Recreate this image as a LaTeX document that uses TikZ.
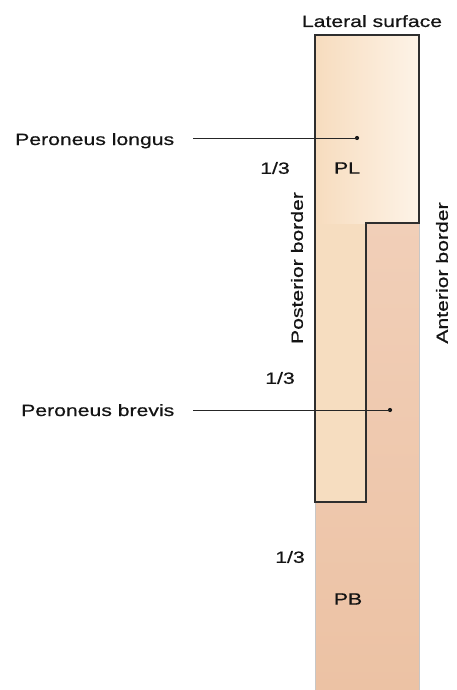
\documentclass[tikz,border=0pt]{standalone}
\usepackage{fontspec}
\setmainfont[FakeStretch=1.3,FakeBold=0.6]{Liberation Sans}
\definecolor{pbtop}{RGB}{243,212,192}
\definecolor{pbbot}{RGB}{236,194,164}
\definecolor{plfill}{RGB}{246,221,192}
\definecolor{plleft}{RGB}{247,220,190}
\definecolor{plright}{RGB}{253,243,231}
\begin{document}
\begin{tikzpicture}[x=1pt,y=-1pt,
  lbl/.style={inner sep=0pt,font=\fontsize{16.3}{18}\selectfont,text=black!92},
  outline/.style={draw=black!82,line width=1.2pt},
  faint/.style={draw=black!22,line width=0.6pt},
  leader/.style={draw=black!85,line width=1pt},
  dotmark/.style={circle,fill=black!90,inner sep=0pt,minimum size=4.2pt}]
\useasboundingbox (0,0) rectangle (456,690);
% column (PB background)
\shade[top color=pbtop,bottom color=pbbot] (315,35) rectangle (419,690);
% PL region
\fill[plfill] (315,502) -- (315,35) -- (419,35) -- (419,223) -- (366,223) -- (366,502) -- cycle;
\shade[left color=plleft,right color=plright] (315,35) rectangle (419,223);
% edges
\draw[faint] (419,223) -- (419,690);
\draw[faint] (315,502) -- (315,690);
\draw[outline] (315,502) -- (315,35) -- (419,35) -- (419,223) -- (366,223) -- (366,502) -- cycle;
% labels
\node[lbl,anchor=base] (lat) at (372,27) {Lateral surface};
\node[lbl,anchor=base west] (longus) at (15,145) {Peroneus longus};
\node[lbl,anchor=base west] (brevis) at (21,416) {Peroneus brevis};
\node[lbl] (t1) at (275,168) {1/3};
\node[lbl] (t2) at (280,378) {1/3};
\node[lbl] (t3) at (290,557) {1/3};
\node[lbl] (pl) at (347,168) {PL};
\node[lbl] (pb) at (348,599) {PB};
\node[lbl,rotate=90] (post) at (297,268) {Posterior border};
\node[lbl,rotate=90] (ant) at (442,273) {Anterior border};
% leaders
\coordinate (lsA) at (193,138);
\node[dotmark] (ldot) at (357,138) {};
\coordinate (bsA) at (193,410);
\node[dotmark] (bdot) at (390,410) {};
\draw[leader] (lsA) -- (ldot.center);
\draw[leader] (bsA) -- (bdot.center);
\end{tikzpicture}
\end{document}
